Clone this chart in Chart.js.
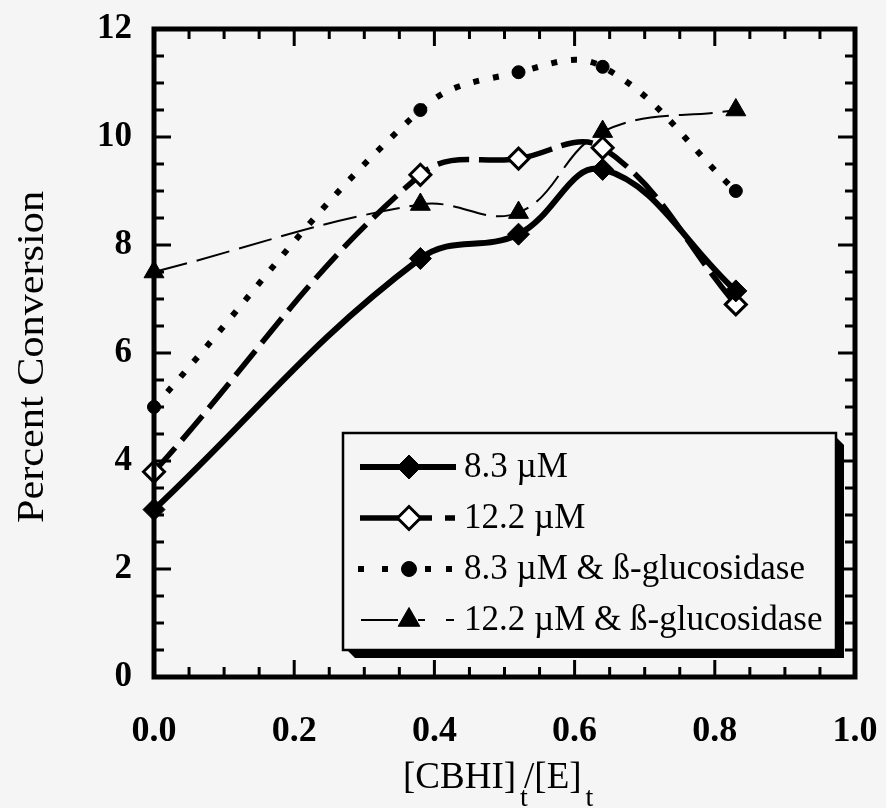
<!DOCTYPE html>
<html>
<head>
<meta charset="utf-8">
<script src="https://cdn.jsdelivr.net/npm/chart.js@4.4.1/dist/chart.umd.min.js"></script>
<style>
  html, body { margin: 0; padding: 0; background: #f5f5f5; }
  #wrap { width: 886px; height: 808px; }
</style>
</head>
<body>
<div id="wrap"><canvas id="chart" width="886" height="808"></canvas></div>
<script>
// ratio [CBHI]t/[E]t
const ratios = [0, 0.38, 0.52, 0.64, 0.83];
// percent conversion
const conv83 = [3.1, 7.75, 8.2, 9.4, 7.15];
const conv122 = [3.8, 9.3, 9.6, 9.8, 6.9];
const conv83Gluc = [5.0, 10.5, 11.2, 11.3, 9.0];
const conv122Gluc = [7.5, 8.75, 8.6, 10.1, 10.5];
const xTicks = [0, 0.2, 0.4, 0.6, 0.8, 1.0];
const yTicks = [0, 2, 4, 6, 8, 10, 12];
const seriesNames = ["8.3 \u00b5M", "12.2 \u00b5M", "8.3 \u00b5M & \u00df-glucosidase", "12.2 \u00b5M & \u00df-glucosidase"];

const pts = arr => arr.map((v, i) => ({ x: ratios[i], y: v }));

const styles = [
  { width: 6, dash: [], point: "rectRot", radius: 11, fill: "#000", bw: 1 },
  { width: 5.5, dash: [32, 10], point: "rectRot", radius: 10.5, fill: "#fff", bw: 3 },
  { width: 6, dash: [6, 14], point: "circle", radius: 6.5, fill: "#000", bw: 1 },
  { width: 2, dash: [34, 10], point: "triangle", radius: 11.5, fill: "#000", bw: 1 }
];
// legend line pieces [from, to] in px, per row
const legendPieces = [
  [[360, 456]],
  [[360, 432], [445, 455]],
  [[358, 364], [382, 388], [425, 431], [446, 452]],
  [[361, 398], [418, 425], [446, 454]]
];

const datasets = [conv83, conv122, conv83Gluc, conv122Gluc].map((arr, i) => ({
  label: seriesNames[i],
  data: pts(arr),
  borderColor: "#000",
  borderWidth: styles[i].width,
  borderDash: styles[i].dash,
  pointStyle: styles[i].point,
  pointRadius: styles[i].radius,
  pointBackgroundColor: styles[i].fill,
  pointBorderColor: "#000",
  pointBorderWidth: styles[i].bw,
  tension: 0.4,
  clip: false
}));

const framePlugin = {
  id: "frame",
  afterDatasetsDraw(chart) {
    const { ctx, chartArea: a, scales } = chart;
    const xs = scales.x, ys = scales.y;
    ctx.save();
    ctx.strokeStyle = "#000";
    ctx.fillStyle = "#000";
    ctx.setLineDash([]);
    ctx.lineWidth = 5;
    ctx.strokeRect(a.left, a.top, a.right - a.left, a.bottom - a.top);

    // inward ticks on all four sides
    ctx.lineWidth = 3;
    for (let i = 0; i <= 20; i++) {
      const px = xs.getPixelForValue(i * 0.05);
      const len = i % 4 === 0 ? 17 : 10;
      ctx.beginPath();
      ctx.moveTo(px, a.bottom); ctx.lineTo(px, a.bottom - len);
      ctx.moveTo(px, a.top); ctx.lineTo(px, a.top + len);
      ctx.stroke();
    }
    for (let i = 0; i <= 24; i++) {
      const py = ys.getPixelForValue(i * 0.5);
      const len = i % 4 === 0 ? 17 : 10;
      ctx.beginPath();
      ctx.moveTo(a.left, py); ctx.lineTo(a.left + len, py);
      ctx.moveTo(a.right, py); ctx.lineTo(a.right - len, py);
      ctx.stroke();
    }

    // y title
    ctx.font = "38px 'Liberation Serif'";
    const t = "Percent Conversion";
    const w = ctx.measureText(t).width;
    ctx.save();
    ctx.translate(43, 357);
    ctx.rotate(-Math.PI / 2);
    ctx.scale(332 / w, 1);
    ctx.textAlign = "center";
    ctx.textBaseline = "alphabetic";
    ctx.fillText(t, 0, 0);
    ctx.restore();

    // x title with subscripts
    ctx.textAlign = "left";
    ctx.textBaseline = "alphabetic";
    ctx.font = "37px 'Liberation Serif'";
    ctx.fillText("[CBHI]", 403, 788);
    let x = 403 + ctx.measureText("[CBHI]").width;
    ctx.font = "28px 'Liberation Serif'";
    ctx.fillText("t", x + 4, 806);
    ctx.font = "37px 'Liberation Serif'";
    ctx.fillText("/[E]", x + 8, 788);
    x = x + 8 + ctx.measureText("/[E]").width;
    ctx.font = "28px 'Liberation Serif'";
    ctx.fillText("t", x + 4, 806);

    // legend box with shadow
    const L = 343, T = 433, R = 836, B = 650;
    ctx.beginPath();
    ctx.moveTo(R, T + 4); ctx.lineTo(R + 8, T + 12); ctx.lineTo(R + 8, B + 8);
    ctx.lineTo(L + 12, B + 8); ctx.lineTo(L + 4, B); ctx.closePath();
    ctx.fill();
    ctx.fillStyle = "#f5f5f5";
    ctx.fillRect(L, T, R - L, B - T);
    ctx.fillStyle = "#000";
    ctx.lineWidth = 2.5;
    ctx.strokeRect(L, T, R - L, B - T);

    chart.data.datasets.forEach((ds, i) => {
      const y = 467 + i * 51;
      const st = styles[i];
      ctx.lineWidth = st.width;
      legendPieces[i].forEach(([x0, x1]) => {
        ctx.beginPath();
        ctx.moveTo(x0, y); ctx.lineTo(x1, y);
        ctx.stroke();
      });
      ctx.save();
      ctx.fillStyle = st.fill;
      ctx.lineWidth = st.bw;
      Chart.helpers.drawPoint(ctx, {
        pointStyle: st.point, radius: st.radius + 1, rotation: 0, borderWidth: st.bw
      }, 409, y);
      ctx.restore();
      ctx.font = "35px 'Liberation Serif'";
      ctx.textBaseline = "middle";
      ctx.fillText(ds.label, 464, y + 1);
    });
    ctx.restore();
  }
};

const bg = {
  id: "bg",
  beforeDraw(chart) {
    const ctx = chart.ctx;
    ctx.save();
    ctx.fillStyle = "#f5f5f5";
    ctx.fillRect(0, 0, chart.width, chart.height);
    ctx.restore();
  }
};

new Chart(document.getElementById("chart").getContext("2d"), {
  type: "line",
  data: { datasets: datasets },
  options: {
    responsive: false,
    animation: false,
    layout: { padding: { top: 29, right: 31, left: 0, bottom: 0 } },
    plugins: { legend: { display: false }, tooltip: { enabled: false } },
    scales: {
      x: {
        type: "linear",
        min: 0, max: 1,
        afterFit: s => { s.height = 131; s.paddingLeft = 0; s.paddingRight = 0; },
        afterBuildTicks: s => { s.ticks = xTicks.map(v => ({ value: v })); },
        grid: { display: false, drawTicks: false },
        border: { display: false },
        ticks: {
          padding: 33,
          color: "#000",
          font: { family: "'Liberation Serif'", size: 36, weight: "bold" },
          callback: v => v.toFixed(1)
        }
      },
      y: {
        min: 0, max: 12,
        afterFit: s => { s.width = 154; s.paddingTop = 0; s.paddingBottom = 0; },
        afterBuildTicks: s => { s.ticks = yTicks.map(v => ({ value: v })); },
        grid: { display: false, drawTicks: false },
        border: { display: false },
        ticks: {
          padding: 22,
          color: "#000",
          font: { family: "'Liberation Serif'", size: 35, weight: "bold" }
        }
      }
    }
  },
  plugins: [bg, framePlugin]
});
</script>
</body>
</html>
